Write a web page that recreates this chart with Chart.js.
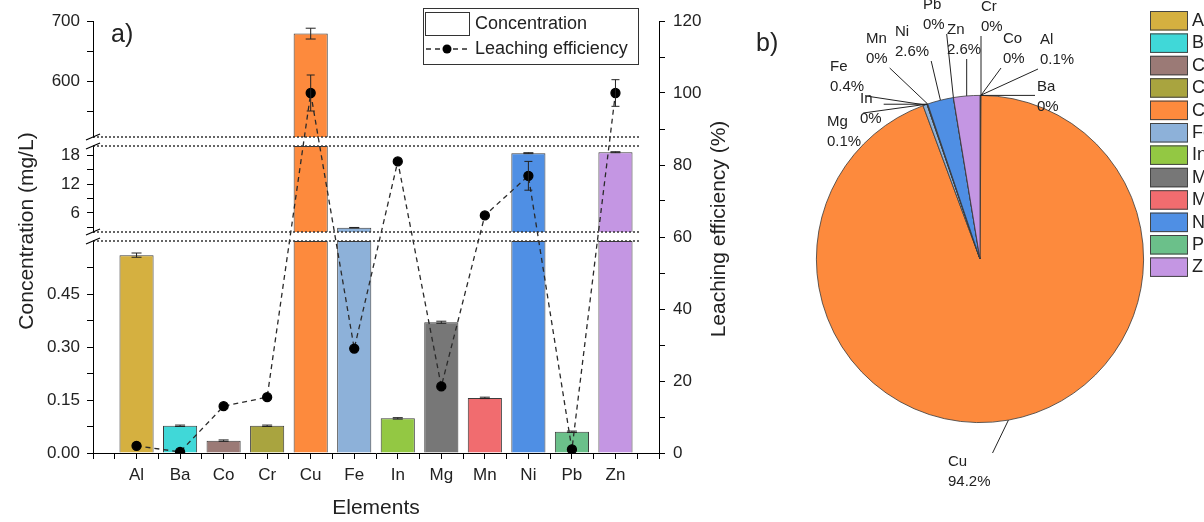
<!DOCTYPE html>
<html>
<head>
<meta charset="utf-8">
<title>Concentration and leaching efficiency</title>
<script src="https://cdn.jsdelivr.net/npm/chart.js@4.4.0/dist/chart.umd.min.js"></script>
<style>
  html, body { margin: 0; padding: 0; background: #fff; overflow: hidden; }
  #wrap { position: relative; width: 1204px; height: 522px; overflow: hidden; }
  #barCanvas { position: absolute; left: 0; top: 0; }
  #pieCanvas { position: absolute; left: 745px; top: 0; }
</style>
</head>
<body>
<div id="wrap">
  <canvas id="barCanvas" width="745" height="522"></canvas>
  <canvas id="pieCanvas" width="515" height="522"></canvas>
</div>
<script>
const elements = ['Al', 'Ba', 'Co', 'Cr', 'Cu', 'Fe', 'In', 'Mg', 'Mn', 'Ni', 'Pb', 'Zn'];
const concentration = [0.56, 0.077, 0.035, 0.077, 679, 2.9, 0.098, 0.37, 0.156, 18.5, 0.06, 18.7];
const concentrationErr = [0.006, 0.002, 0.002, 0.002, 9, 0.05, 0.002, 0.003, 0.002, 0.1, 0.002, 0.1];
const leaching = [2, 0.3, 13, 15.5, 100, 29, 81, 18.5, 66, 77, 1, 100];
const leachingErr = [0, 0, 0, 0, 5, 0, 0, 0, 0, 4, 0, 3.7];
const colors = ['#d5b040', '#40d8d8', '#9b7a76', '#a9a43f', '#fd8a3d', '#8db1d9', '#93c843',
  '#777777', '#f16c6f', '#4f8fe4', '#6bc08a', '#c496e3'];

// broken left axis: three ranges, with their tick labels
const topTicks = [600, 700];
const topMinor = [550, 650];
const midTicks = [6, 12, 18];
const midMinor = [3, 9, 15];
const lowTicks = [0, 0.15, 0.30, 0.45];
const lowMinor = [0.075, 0.225, 0.375, 0.525];
const rightTicks = [0, 20, 40, 60, 80, 100, 120];
const rightMinor = [10, 30, 50, 70, 90, 110];

const FONT = "'Liberation Sans', Arial, Helvetica, sans-serif";

const segments = [
  { id: 'yTop', min: 507, max: 700, weight: 116, major: topTicks, minor: topMinor, fmt: v => String(v) },
  { id: 'yMid', min: 2, max: 20, weight: 86, major: midTicks, minor: midMinor, fmt: v => String(v) },
  { id: 'yLow', min: 0, max: 0.6, weight: 212, major: lowTicks, minor: lowMinor, fmt: v => v.toFixed(2) },
];

function segmentScale(seg) {
  return {
    type: 'linear', position: 'left', stack: 'conc', stackWeight: seg.weight,
    min: seg.min, max: seg.max,
    afterBuildTicks: s => { s.ticks = seg.major.concat(seg.minor).sort((a, b) => a - b).map(v => ({ value: v })); },
    afterFit: s => { s.width = 93; },
    border: { display: true, color: '#000', width: 1 },
    grid: { drawOnChartArea: false, drawTicks: true, tickLength: 6, tickColor: '#000' },
    ticks: {
      autoSkip: false, padding: 7, color: '#222', font: { family: FONT, size: 17 },
      callback: v => seg.major.includes(v) ? seg.fmt(v) : ''
    }
  };
}

function gapScale() {
  return { type: 'linear', position: 'left', stack: 'conc', stackWeight: 9, min: 0, max: 1, display: false };
}

// stacked left scales are laid out bottom-first
const scales = {
  yLow: segmentScale(segments[2]),
  gapB: gapScale(),
  yMid: segmentScale(segments[1]),
  gapA: gapScale(),
  yTop: segmentScale(segments[0]),
  x: {
    type: 'linear', min: 0, max: elements.length + 1, offset: false,
    afterBuildTicks: s => {
      const t = [];
      for (let v = 0; v <= elements.length + 1; v += 0.5) t.push({ value: v });
      s.ticks = t;
    },
    afterFit: s => { s.height = 69; },
    border: { color: '#000', width: 1 },
    grid: { drawOnChartArea: false, offset: false, tickLength: 6, tickColor: '#000' },
    ticks: {
      autoSkip: false, maxRotation: 0, padding: 6, color: '#222', font: { family: FONT, size: 17 },
      callback: v => (Number.isInteger(v) && v >= 1 && v <= elements.length) ? elements[v - 1] : ''
    }
  },
  yR: {
    type: 'linear', position: 'right', min: 0, max: 120,
    afterBuildTicks: s => { s.ticks = rightTicks.concat(rightMinor).sort((a, b) => a - b).map(v => ({ value: v })); },
    afterFit: s => { s.width = 86; },
    border: { color: '#000', width: 1 },
    grid: { drawOnChartArea: false, tickLength: 6, tickColor: '#000' },
    ticks: {
      autoSkip: false, padding: 8, color: '#222', font: { family: FONT, size: 17 },
      callback: v => rightTicks.includes(v) ? String(v) : ''
    }
  }
};

// x ticks every half category, so the bar ruler is half a slot: widen accordingly
const barSets = segments.map(seg => ({
  type: 'bar',
  label: 'Concentration',
  data: concentration.map((v, i) => ({ x: i + 1, y: v > seg.min ? Math.min(v, seg.max) : null })),
  yAxisID: seg.id,
  xAxisID: 'x',
  grouped: false,
  backgroundColor: colors,
  borderColor: '#3c3c3c',
  borderWidth: 1,
  categoryPercentage: 1.6,
  barPercentage: 0.98,
  order: 2
}));

const lineSet = {
  type: 'line',
  label: 'Leaching efficiency',
  data: leaching.map((v, i) => ({ x: i + 1, y: v })),
  yAxisID: 'yR',
  xAxisID: 'x',
  borderColor: '#2a2a2a',
  borderWidth: 1.3,
  borderDash: [5, 4],
  pointRadius: 4.5,
  pointBackgroundColor: '#000',
  pointBorderColor: '#000',
  tension: 0,
  order: 1
};

function drawErr(ctx, px, yLo, yHi, half) {
  ctx.beginPath();
  ctx.moveTo(px, yLo); ctx.lineTo(px, yHi);
  ctx.moveTo(px - half, yLo); ctx.lineTo(px + half, yLo);
  ctx.moveTo(px - half, yHi); ctx.lineTo(px + half, yHi);
  ctx.stroke();
}

const barDecor = {
  id: 'barDecor',
  afterDatasetsDraw(chart) {
    const ctx = chart.ctx;
    const { left, right } = chart.chartArea;
    const xs = chart.scales.x;
    ctx.save();
    // error bars
    ctx.strokeStyle = '#222';
    ctx.lineWidth = 1;
    concentration.forEach((v, i) => {
      const seg = segments.find(s => v > s.min && v <= s.max);
      if (!seg) return;
      const sc = chart.scales[seg.id];
      const e = concentrationErr[i];
      drawErr(ctx, xs.getPixelForValue(i + 1), sc.getPixelForValue(v - e), sc.getPixelForValue(v + e), 5);
    });
    const yR = chart.scales.yR;
    leaching.forEach((v, i) => {
      const e = leachingErr[i];
      if (!e) return;
      drawErr(ctx, xs.getPixelForValue(i + 1), yR.getPixelForValue(v - e), yR.getPixelForValue(v + e), 4);
    });
    // axis breaks
    const edges = [chart.scales.yTop.bottom, chart.scales.yMid.top, chart.scales.yMid.bottom, chart.scales.yLow.top];
    ctx.strokeStyle = '#333';
    ctx.lineWidth = 1.6;
    ctx.setLineDash([2, 2]);
    edges.forEach(y => {
      ctx.beginPath(); ctx.moveTo(left, y); ctx.lineTo(right - 19, y); ctx.stroke();
    });
    ctx.setLineDash([]);
    ctx.strokeStyle = '#000';
    ctx.lineWidth = 1.2;
    edges.forEach(y => {
      ctx.beginPath(); ctx.moveTo(left - 7, y + 3); ctx.lineTo(left + 7, y - 3); ctx.stroke();
    });
    ctx.restore();
  },
  afterDraw(chart) {
    const ctx = chart.ctx;
    const { left, right } = chart.chartArea;
    ctx.save();
    ctx.fillStyle = '#222';
    ctx.textBaseline = 'middle';
    ctx.textAlign = 'center';
    ctx.font = '21px ' + FONT;
    ctx.fillText('Elements', (left + right) / 2, 508);
    ctx.save();
    ctx.translate(27, 231);
    ctx.rotate(-Math.PI / 2);
    ctx.fillText('Concentration (mg/L)', 0, 0);
    ctx.restore();
    ctx.save();
    ctx.translate(719, 229);
    ctx.rotate(-Math.PI / 2);
    ctx.fillText('Leaching efficiency (%)', 0, 0);
    ctx.restore();
    ctx.textAlign = 'left';
    ctx.font = '25px ' + FONT;
    ctx.fillText('a)', 111, 35);

    // legend
    ctx.strokeStyle = '#333';
    ctx.lineWidth = 1;
    ctx.fillStyle = '#fff';
    ctx.fillRect(423.5, 8.5, 215, 56);
    ctx.strokeRect(423.5, 8.5, 215, 56);
    ctx.strokeRect(425.5, 12.5, 44, 23);
    ctx.strokeStyle = '#2a2a2a';
    ctx.lineWidth = 1.3;
    ctx.setLineDash([5, 4]);
    ctx.beginPath(); ctx.moveTo(426, 49); ctx.lineTo(470, 49); ctx.stroke();
    ctx.setLineDash([]);
    ctx.fillStyle = '#000';
    ctx.beginPath(); ctx.arc(447, 49, 4.5, 0, Math.PI * 2); ctx.fill();
    ctx.fillStyle = '#222';
    ctx.font = '18px ' + FONT;
    ctx.fillText('Concentration', 475, 24);
    ctx.fillText('Leaching efficiency', 475, 49);
    ctx.restore();
  }
};

new Chart(document.getElementById('barCanvas'), {
  type: 'bar',
  data: { datasets: [lineSet].concat(barSets) },
  options: {
    responsive: false,
    animation: false,
    devicePixelRatio: 1,
    layout: { padding: { top: 21, left: 0, right: 0, bottom: 0 } },
    plugins: { legend: { display: false }, tooltip: { enabled: false } },
    scales
  },
  plugins: [barDecor]
});

// ---- b) pie ----
// label placement around the pie: [dx, dy] of the label's first line, from the pie centre
const pieLabelOffsets = {
  Al: [60, -219], Ba: [57, -172], Co: [23, -220], Cr: [1, -252], Cu: [-32, 203], Fe: [-150, -192],
  In: [-120, -160], Mg: [-153, -137], Mn: [-114, -220], Ni: [-85, -227], Pb: [-57, -254], Zn: [-33, -229]
};

const pieDecor = {
  id: 'pieDecor',
  afterDraw(chart) {
    const ctx = chart.ctx;
    const meta = chart.getDatasetMeta(0);
    const data = chart.data.datasets[0].data;
    const total = data.reduce((a, b) => a + b, 0);
    ctx.save();
    ctx.font = '15px ' + FONT;
    ctx.textBaseline = 'middle';
    ctx.textAlign = 'left';
    meta.data.forEach((arc, i) => {
      const name = chart.data.labels[i];
      const pct = (data[i] / total * 100);
      const txt = (Math.round(pct * 10) / 10).toFixed(1).replace(/\.0$/, '') + '%';
      const mid = (arc.startAngle + arc.endAngle) / 2;
      const ax = arc.x + Math.cos(mid) * arc.outerRadius;
      const ay = arc.y + Math.sin(mid) * arc.outerRadius;
      const off = pieLabelOffsets[name];
      const lx = arc.x + off[0];
      const ly = arc.y + off[1];
      const w = Math.max(ctx.measureText(name).width, ctx.measureText(txt).width);
      const bx0 = lx - 2, bx1 = lx + w + 2, by0 = ly - 9, by1 = ly + 20 + 9;
      const ex = Math.min(Math.max(ax, bx0), bx1);
      const ey = Math.min(Math.max(ay, by0), by1);
      ctx.strokeStyle = '#222';
      ctx.lineWidth = 1;
      ctx.beginPath(); ctx.moveTo(ax, ay); ctx.lineTo(ex, ey); ctx.stroke();
      ctx.fillStyle = '#222';
      ctx.fillText(name, lx, ly);
      ctx.fillText(txt, lx, ly + 20);
    });

    // legend (cut by the page edge like the original)
    ctx.font = '18px ' + FONT;
    chart.data.labels.forEach((name, i) => {
      const y = 11 + i * 22.4;
      ctx.fillStyle = colors[i];
      ctx.fillRect(405, y, 38, 19.5);
      ctx.strokeStyle = '#444';
      ctx.lineWidth = 1;
      ctx.strokeRect(405.5, y + 0.5, 37, 18.5);
      ctx.fillStyle = '#222';
      ctx.fillText(name, 447, y + 10);
    });

    ctx.font = '25px ' + FONT;
    ctx.fillText('b)', 11, 44);
    ctx.restore();
  }
};

new Chart(document.getElementById('pieCanvas'), {
  type: 'pie',
  data: {
    labels: elements,
    datasets: [{ data: concentration, backgroundColor: colors, borderColor: '#3a3a3a', borderWidth: 0.8 }]
  },
  options: {
    responsive: false,
    animation: false,
    devicePixelRatio: 1,
    layout: { padding: { left: 71, right: 116, top: 95, bottom: 99 } },
    plugins: { legend: { display: false }, tooltip: { enabled: false } }
  },
  plugins: [pieDecor]
});
</script>
</body>
</html>
